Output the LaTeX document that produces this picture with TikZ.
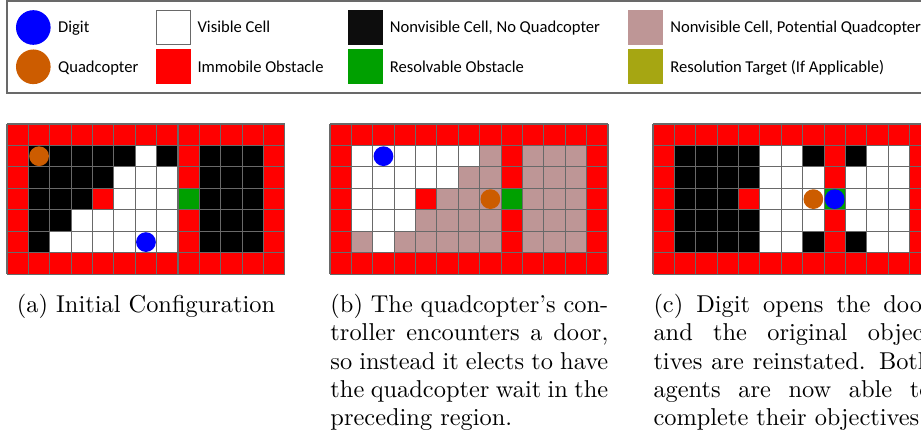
\documentclass[tikz,border=0pt]{standalone}
\usepackage{fontspec}
\usetikzlibrary{positioning}
\newfontfamily\legendfont{Carlito}
\definecolor{cR}{RGB}{255,0,0}
\definecolor{cB}{RGB}{0,0,0}
\definecolor{cW}{RGB}{255,255,255}
\definecolor{cG}{RGB}{0,160,0}
\definecolor{cP}{RGB}{190,150,150}
\definecolor{cY}{RGB}{166,166,18}
\definecolor{digitblue}{RGB}{0,0,255}
\definecolor{quadorange}{RGB}{204,92,0}
\definecolor{linegray}{RGB}{105,105,105}
\newcommand{\cellw}{21.38}
\newcommand{\cellh}{21.47}
\newcommand{\gridlines}{%
    \foreach \i in {0,...,13} \draw[gridline] (\i*\cellw,0) -- (\i*\cellw,7*\cellh);
    \foreach \j in {0,...,7} \draw[gridline] (0,\j*\cellh) -- (13*\cellw,\j*\cellh);
}

\begin{document}
\begin{tikzpicture}[x=0.41pt, y=-0.41pt]
    \tikzset{gridline/.style = {draw=linegray, line width=0.45pt},
             agent/.style = {circle, inner sep=0pt, minimum size=8.1pt},
             swdisc/.style = {circle, inner sep=0pt, minimum size=14.2pt},
             swbox/.style = {rectangle, inner sep=0pt, minimum size=14.3pt},
             ltext/.style = {font=\legendfont\fontsize{6.8}{8}\selectfont, inner sep=0pt, text height=4.4pt, text depth=0pt},
             capt/.style = {font=\fontsize{10}{11.65}\selectfont, inner sep=0pt}}
    \useasboundingbox (0,0) rectangle (921,436);
    \clip (0,0) rectangle (921,436);
    % legend
    \draw[draw=linegray, line width=0.45pt] (7,1) rectangle (940,93);
    \node[swdisc, fill=digitblue] (leg-digit) at (33.3,27.5) {};
    \node[swdisc, fill=quadorange] (leg-quad) at (33.3,66.8) {};
    \node[swbox, fill=cW, draw=linegray, line width=0.45pt] (leg-vis) at (173.5,27.5) {};
    \node[swbox, fill=cR] (leg-obst) at (173.5,66.8) {};
    \node[swbox, fill=cB!95!white] (leg-hide) at (365.7,27.5) {};
    \node[swbox, fill=cG] (leg-door) at (365.7,66.8) {};
    \node[swbox, fill=cP] (leg-maybe) at (645.8,27.5) {};
    \node[swbox, fill=cY] (leg-target) at (645.8,66.8) {};
    \node[ltext, right=2.7pt of leg-digit] (txt-digit) {Digit};
    \node[ltext, right=2.7pt of leg-quad] (txt-quad) {Quadcopter};
    \node[ltext, right=2.3pt of leg-vis] (txt-vis) {Visible Cell};
    \node[ltext, right=2.3pt of leg-obst] (txt-obst) {Immobile Obstacle};
    \node[ltext, right=2.4pt of leg-hide] (txt-hide) {Nonvisible Cell, No Quadcopter};
    \node[ltext, right=2.4pt of leg-door] (txt-door) {Resolvable Obstacle};
    \node[ltext, right=2.5pt of leg-maybe] (txt-maybe) {Nonvisible Cell, Potential Quadcopter};
    \node[ltext, right=2.5pt of leg-target] (txt-target) {Resolution Target (If Applicable)};
    % (a)
    \begin{scope}[shift={(7,124)}]
        \foreach \cells [count=\j from 0] in {
            {R,R,R,R,R,R,R,R,R,R,R,R,R},
            {R,B,B,B,B,B,W,B,R,B,B,B,R},
            {R,B,B,B,B,W,W,W,R,B,B,B,R},
            {R,B,B,B,R,W,W,W,G,B,B,B,R},
            {R,B,B,W,W,W,W,W,R,B,B,B,R},
            {R,B,W,W,W,W,W,W,R,B,B,B,R},
            {R,R,R,R,R,R,R,R,R,R,R,R,R}}{
            \foreach \cell [count=\i from 0] in \cells
                \fill[fill=c\cell] (\i*\cellw,\j*\cellh) rectangle ++(\cellw,\cellh);
        }
        \gridlines
        \node[agent, fill=quadorange] (quad-a) at (1.5*\cellw,1.5*\cellh) {};
        \node[agent, fill=digitblue] (digit-a) at (6.5*\cellw,5.5*\cellh) {};
    \end{scope}
    % (b)
    \begin{scope}[shift={(330,124)}]
        \foreach \cells [count=\j from 0] in {
            {R,R,R,R,R,R,R,R,R,R,R,R,R},
            {R,W,W,W,W,W,W,P,R,P,P,P,R},
            {R,W,W,W,W,W,P,P,R,P,P,P,R},
            {R,W,W,W,R,P,P,P,G,P,P,P,R},
            {R,W,W,W,P,P,P,P,R,P,P,P,R},
            {R,P,W,P,P,P,P,P,R,P,P,P,R},
            {R,R,R,R,R,R,R,R,R,R,R,R,R}}{
            \foreach \cell [count=\i from 0] in \cells
                \fill[fill=c\cell] (\i*\cellw,\j*\cellh) rectangle ++(\cellw,\cellh);
        }
        \gridlines
        \node[agent, fill=digitblue] (digit-b) at (2.5*\cellw,1.5*\cellh) {};
        \node[agent, fill=quadorange] (quad-b) at (7.5*\cellw,3.5*\cellh) {};
    \end{scope}
    % (c)
    \begin{scope}[shift={(653,124)}]
        \foreach \cells [count=\j from 0] in {
            {R,R,R,R,R,R,R,R,R,R,R,R,R},
            {R,B,B,B,B,W,W,B,R,B,W,W,R},
            {R,B,B,B,B,W,W,W,R,W,W,W,R},
            {R,B,B,B,R,W,W,W,G,W,W,W,R},
            {R,B,B,B,B,W,W,W,R,W,W,W,R},
            {R,B,B,B,B,W,W,B,R,B,W,W,R},
            {R,R,R,R,R,R,R,R,R,R,R,R,R}}{
            \foreach \cell [count=\i from 0] in \cells
                \fill[fill=c\cell] (\i*\cellw,\j*\cellh) rectangle ++(\cellw,\cellh);
        }
        \gridlines
        \node[agent, fill=quadorange] (quad-c) at (7.5*\cellw,3.5*\cellh) {};
        \node[agent, fill=digitblue] (digit-c) at (8.5*\cellw,3.5*\cellh) {};
    \end{scope}
    % captions
    \node[capt, anchor=north] (cap-a) at (146,293.4) {(a) Initial Configuration};
    \node[capt, anchor=north west, text width=113.9pt, align=justify] (cap-b) at (330,293.4)
        {(b) The quadcopter's con-\linebreak troller encounters a door,\linebreak so instead it elects to have\linebreak the quadcopter wait in the\linebreak preceding region.};
    \node[capt, anchor=north west, text width=114pt, align=justify] (cap-c) at (653,293.4)
        {(c) Digit opens the door\linebreak and the original objec-\linebreak tives are reinstated. Both\linebreak agents are now able to\linebreak complete their objectives.};
\end{tikzpicture}
\end{document}
